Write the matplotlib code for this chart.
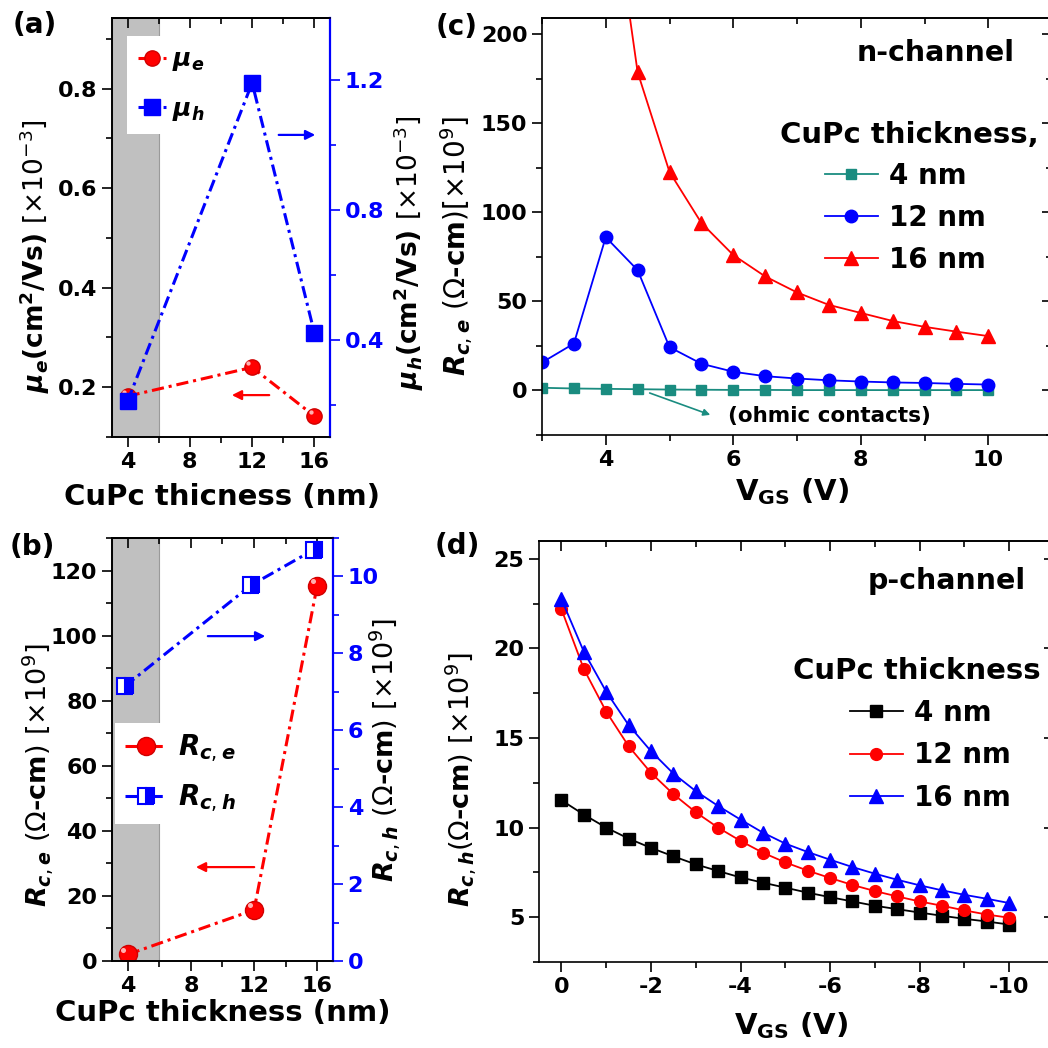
import matplotlib.pyplot as plt
from matplotlib.ticker import MultipleLocator
from matplotlib.transforms import offset_copy

plt.rcParams['font.family'] = 'DejaVu Sans'
plt.rcParams['font.weight'] = 'bold'
plt.rcParams['axes.labelweight'] = 'bold'
plt.rcParams['axes.unicode_minus'] = False
plt.rcParams['mathtext.fontset'] = 'custom'
plt.rcParams['mathtext.rm'] = 'DejaVu Sans:weight=normal'
plt.rcParams['mathtext.bf'] = 'DejaVu Sans:weight=bold'
plt.rcParams['mathtext.it'] = 'DejaVu Sans:italic:weight=bold'
plt.rcParams['axes.linewidth'] = 1.2

# ---- data ----
thick = [4, 12, 16]
mu_e = [0.182, 0.240, 0.142]          # x1e-3 cm2/Vs
mu_h = [0.21, 1.19, 0.42]             # x1e-3 cm2/Vs
rc_e = [2.0, 15.7, 115.4]             # x1e9 ohm-cm
rc_h_x = [3.8, 11.8, 15.8]
rc_h = [7.14, 9.77, 10.7]             # x1e9 ohm-cm

vgs_n = [3.0, 3.5, 4.0, 4.5, 5.0, 5.5, 6.0, 6.5, 7.0, 7.5, 8.0, 8.5, 9.0, 9.5, 10.0]
rcn_4 = [1.5, 1.1, 0.9, 0.7, 0.5, 0.4, 0.3, 0.3, 0.2, 0.2, 0.2, 0.2, 0.2, 0.2, 0.2]
rcn_12 = [15.7, 26.3, 86.0, 67.5, 24.3, 15.0, 10.5, 8.0, 6.7, 5.7, 5.0, 4.5, 4.2, 3.7, 3.3]
vgs_n16 = [4.0, 4.5, 5.0, 5.5, 6.0, 6.5, 7.0, 7.5, 8.0, 8.5, 9.0, 9.5, 10.0]
rcn_16 = [305, 178.6, 122.6, 94.0, 76.0, 64.0, 55.0, 48.0, 43.5, 39.0, 35.7, 33.0, 30.5]

vgs_p = [0, -0.5, -1, -1.5, -2, -2.5, -3, -3.5, -4, -4.5, -5, -5.5, -6, -6.5,
         -7, -7.5, -8, -8.5, -9, -9.5, -10]
rcp_4 = [11.53, 10.73, 10.0, 9.39, 8.87, 8.4, 7.95, 7.58, 7.22, 6.93, 6.65,
         6.37, 6.12, 5.88, 5.64, 5.45, 5.26, 5.08, 4.91, 4.76, 4.59]
rcp_12 = [22.2, 18.86, 16.48, 14.55, 13.06, 11.87, 10.86, 10.0, 9.26, 8.6, 8.06,
          7.6, 7.19, 6.8, 6.46, 6.16, 5.88, 5.64, 5.38, 5.15, 4.97]
rcp_16 = [22.76, 19.83, 17.59, 15.73, 14.27, 13.02, 12.04, 11.21, 10.45, 9.72, 9.11,
          8.64, 8.21, 7.8, 7.43, 7.09, 6.78, 6.5, 6.25, 6.03, 5.79]

W = H = 1048
teal = '#1a8c80'
blue = '#0000ff'
red = '#ff0000'
dashdot = (0, (4, 1.6, 1, 1.6))
TICK = 16


def box(l, t, r, b):
    return [l / W, 1 - b / H, (r - l) / W, (b - t) / H]


def base_ticks(ax, xmaj, xmin, ymaj, ymin, right_in=False):
    ax.xaxis.set_major_locator(MultipleLocator(xmaj))
    ax.xaxis.set_minor_locator(MultipleLocator(xmin))
    ax.yaxis.set_major_locator(MultipleLocator(ymaj))
    ax.yaxis.set_minor_locator(MultipleLocator(ymin))
    ax.tick_params(which='major', direction='out', length=7, width=1.2, labelsize=TICK)
    ax.tick_params(which='minor', direction='out', length=4, width=1.2)
    ax.tick_params(right=False, top=False)
    top = ax.secondary_xaxis('top')
    top.xaxis.set_major_locator(MultipleLocator(xmaj))
    top.xaxis.set_minor_locator(MultipleLocator(xmin))
    top.tick_params(which='major', direction='in', length=7, width=1.2, labeltop=False)
    top.tick_params(which='minor', direction='in', length=4, width=1.2)
    if right_in:
        rt = ax.secondary_yaxis('right')
        rt.yaxis.set_major_locator(MultipleLocator(ymaj))
        rt.yaxis.set_minor_locator(MultipleLocator(ymin))
        rt.tick_params(which='major', direction='in', length=7, width=1.2, labelright=False)
        rt.tick_params(which='minor', direction='in', length=4, width=1.2)


def blue_right(ax2, ymaj, ymin):
    ax2.yaxis.set_major_locator(MultipleLocator(ymaj))
    ax2.yaxis.set_minor_locator(MultipleLocator(ymin))
    ax2.tick_params(which='major', direction='out', length=7, width=1.2,
                    labelsize=TICK, colors=blue)
    ax2.tick_params(which='minor', direction='out', length=4, width=1.2, colors=blue)
    ax2.spines['right'].set_color(blue)
    ax2.spines['right'].set_linewidth(1.6)


def shine(ax, x, y, size):
    # small light spot so the red balls look shaded like the original
    tr = offset_copy(ax.transData, fig=fig, x=-size * 0.35, y=size * 0.35, units='dots')
    ax.plot(x, y, ls='none', marker='o', ms=size * 0.28, mfc='#ffb0b0', mec='none',
            transform=tr, zorder=3)


fig = plt.figure(figsize=(W / 100, H / 100), dpi=100)

# ---------------- (a) ----------------
ax = fig.add_axes(box(112, 18, 330, 437))
ax2 = ax.twinx()
ax.axvspan(3, 6, color='#c0c0c0', ec='#9a9a9a', lw=0.8, zorder=0)
la, = ax.plot(thick, mu_e, color=red, ls=dashdot, lw=2.2, marker='o', ms=11,
              mfc=red, mec='#d00000', label=r'$\mu_e$')
shine(ax, thick, mu_e, 11)
lb, = ax2.plot(thick, mu_h, color=blue, ls=dashdot, lw=2.2, marker='s', ms=11,
               mfc=blue, mec=blue, label=r'$\mu_h$')
ax.set_xlim(3, 17)
ax.set_ylim(0.10, 0.942)
ax2.set_ylim(0.10, 1.39)
base_ticks(ax, 4, 2, 0.2, 0.1)
blue_right(ax2, 0.4, 0.2)
ax.set_ylabel(r'$\mu_e$(cm$^{\mathbf{2}}$/Vs) $\mathrm{[\times10^{-3}]}$', fontsize=19)
ax.yaxis.set_label_coords(-0.275, 0.432)
ax2.set_ylabel(r'$\mu_h$(cm$^{\mathbf{2}}$/Vs) $\mathrm{[\times10^{-3}]}$', fontsize=19)
ax2.yaxis.set_label_coords(1.284, 0.44)
ax.set_xlabel('CuPc thicness (nm)', fontsize=21)
ax.xaxis.set_label_coords(0.505, -0.11)
ax2.annotate('', xy=(0.945, 0.721), xytext=(0.752, 0.721), xycoords='axes fraction',
             arrowprops=dict(arrowstyle='-|>', color=blue, lw=1.6, mutation_scale=14))
ax2.annotate('', xy=(0.537, 0.100), xytext=(0.734, 0.100), xycoords='axes fraction',
             arrowprops=dict(arrowstyle='-|>', color=red, lw=1.6, mutation_scale=14))
ax2.legend(handles=[la, lb], loc='upper left', bbox_to_anchor=(0.069, 0.957),
           frameon=True, fancybox=False, edgecolor='none', facecolor='white',
           framealpha=1, fontsize=18, handlelength=1.1, handletextpad=0.25,
           labelspacing=0.95, borderpad=0.45, borderaxespad=0, numpoints=1)
fig.text(35 / W, 1 - 25 / H, '(a)', fontsize=20, ha='center', va='center')

# ---------------- (b) ----------------
ax = fig.add_axes(box(112, 538, 333, 961))
ax2 = ax.twinx()
ax.axvspan(3, 6, color='#c0c0c0', ec='#9a9a9a', lw=0.8, zorder=0)
la, = ax.plot(thick, rc_e, color=red, ls=dashdot, lw=2.2, marker='o', ms=13,
              mfc=red, mec='#d00000', label=r'$R_{c,e}$')
shine(ax, thick, rc_e, 13)
lb, = ax2.plot(rc_h_x, rc_h, color=blue, ls=dashdot, lw=2.2, marker='s', ms=11,
               fillstyle='right', mfc=blue, mfcalt='white', mec=blue, mew=1.5,
               label=r'$R_{c,h}$')
ax.set_xlim(3, 17)
ax.set_ylim(0, 130)
ax2.set_ylim(0, 11)
base_ticks(ax, 4, 2, 20, 10)
blue_right(ax2, 2, 1)
ax.set_ylabel(r'$R_{c,e}$ $\mathrm{(\Omega}$-cm$\mathrm{)}$ $\mathrm{[\times10^{9}]}$', fontsize=19.5)
ax.yaxis.set_label_coords(-0.258, 0.44)
ax2.set_ylabel(r'$R_{c,h}$ $\mathrm{(\Omega}$-cm$\mathrm{)}$ $\mathrm{[\times10^{9}]}$', fontsize=19.5)
ax2.yaxis.set_label_coords(1.154, 0.5)
ax.set_xlabel('CuPc thickness (nm)', fontsize=21)
ax.xaxis.set_label_coords(0.5, -0.09)
ax2.annotate('', xy=(0.706, 0.768), xytext=(0.421, 0.768), xycoords='axes fraction',
             arrowprops=dict(arrowstyle='-|>', color=blue, lw=1.6, mutation_scale=14))
ax2.annotate('', xy=(0.367, 0.222), xytext=(0.656, 0.222), xycoords='axes fraction',
             arrowprops=dict(arrowstyle='-|>', color=red, lw=1.6, mutation_scale=14))
ax2.legend(handles=[la, lb], loc='upper left', bbox_to_anchor=(0.014, 0.563),
           frameon=True, fancybox=False, edgecolor='none', facecolor='white',
           framealpha=1, fontsize=20, handlelength=1.5, handletextpad=0.4,
           labelspacing=0.65, borderpad=0.35, borderaxespad=0, numpoints=1)
fig.text(32 / W, 1 - 547 / H, '(b)', fontsize=20, ha='center', va='center')

# ---------------- (c) ----------------
ax = fig.add_axes(box(542, 18, 1052, 435))
l1, = ax.plot(vgs_n, rcn_4, '-s', color=teal, ms=7, lw=1.3, label='4 nm')
l2, = ax.plot(vgs_n, rcn_12, '-o', color=blue, ms=9, lw=1.3, label='12 nm')
l3, = ax.plot(vgs_n16, rcn_16, '-^', color=red, ms=10, lw=1.3, label='16 nm')
ax.set_xlim(3, 11)
ax.set_ylim(-25, 209)
base_ticks(ax, 2, 1, 50, 25, right_in=True)
ax.set_ylabel(r'$R_{c,e}$ $\mathrm{(\Omega}$-cm$\mathrm{)[\times10^{9}]}$', fontsize=20)
ax.yaxis.set_label_coords(-0.131, 0.453)
ax.set_xlabel(r'V$_{\mathbf{GS}}$ (V)', fontsize=21)
ax.xaxis.set_label_coords(0.49, -0.1)
ax.text(0.771, 0.916, 'n-channel', transform=ax.transAxes, fontsize=20.5,
        ha='center', va='center')
ax.text(0.467, 0.719, 'CuPc thickness,', transform=ax.transAxes, fontsize=21,
        ha='left', va='center')
ax.legend(handles=[l1, l2, l3], loc='upper left', bbox_to_anchor=(0.555, 0.655),
          frameon=False, fontsize=20, handlelength=1.9, handletextpad=0.4,
          labelspacing=0.5, borderpad=0, borderaxespad=0, numpoints=1)
ax.annotate('', xy=(0.335, 0.046), xytext=(0.206, 0.103), xycoords='axes fraction',
            arrowprops=dict(arrowstyle='-|>', color=teal, lw=1.2, mutation_scale=10))
ax.text(0.365, 0.046, '(ohmic contacts)', transform=ax.transAxes, fontsize=15.5,
        ha='left', va='center')
fig.text(457 / W, 1 - 27 / H, '(c)', fontsize=20, ha='center', va='center')

# ---------------- (d) ----------------
ax = fig.add_axes(box(539, 541, 1054, 962))
l1, = ax.plot(vgs_p, rcp_4, '-s', color='black', ms=8, lw=1.3, label='4 nm')
l2, = ax.plot(vgs_p, rcp_12, '-o', color=red, ms=8.5, lw=1.3, label='12 nm')
l3, = ax.plot(vgs_p, rcp_16, '-^', color=blue, ms=9.5, lw=1.3, label='16 nm')
ax.set_xlim(0.5, -11)
ax.set_ylim(2.5, 26)
base_ticks(ax, 2, 1, 5, 2.5, right_in=True)
ax.set_ylabel(r'$R_{c,h}$$\mathrm{(\Omega}$-cm$\mathrm{)}$ $\mathrm{[\times10^{9}]}$', fontsize=19.5)
ax.yaxis.set_label_coords(-0.118, 0.432)
ax.set_xlabel(r'V$_{\mathbf{GS}}$ (V)', fontsize=21)
ax.xaxis.set_label_coords(0.49, -0.114)
ax.text(0.792, 0.905, 'p-channel', transform=ax.transAxes, fontsize=20.5,
        ha='center', va='center')
ax.text(0.493, 0.691, 'CuPc thickness', transform=ax.transAxes, fontsize=21,
        ha='left', va='center')
ax.legend(handles=[l1, l2, l3], loc='upper left', bbox_to_anchor=(0.604, 0.625),
          frameon=False, fontsize=20, handlelength=1.9, handletextpad=0.4,
          labelspacing=0.52, borderpad=0, borderaxespad=0, numpoints=1)
fig.text(457 / W, 1 - 546 / H, '(d)', fontsize=20, ha='center', va='center')

fig.savefig('out.png', dpi=100, facecolor='white')
